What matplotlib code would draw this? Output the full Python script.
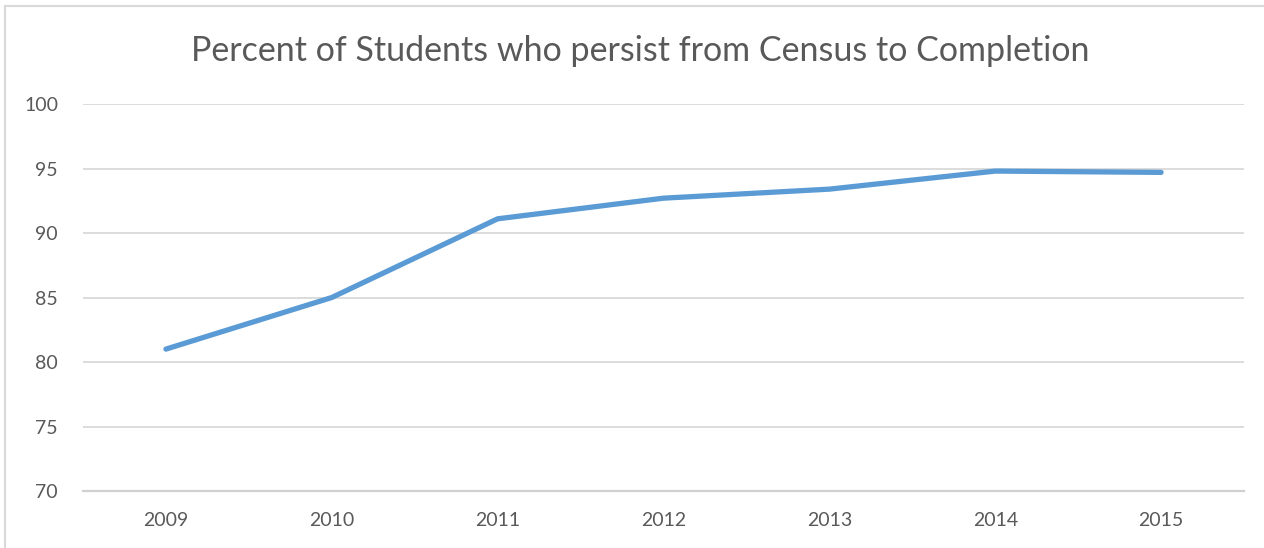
import numpy as np
import matplotlib
matplotlib.use("Agg")
from matplotlib import pyplot as plt
from matplotlib.patches import Rectangle

years = ["2009", "2010", "2011", "2012", "2013", "2014", "2015"]
persist = [81.0, 85.0, 91.1, 92.7, 93.4, 94.8, 94.7]
yticks = [70, 75, 80, 85, 90, 95, 100]

title = "Percent of Students who persist from Census to Completion"

plt.rcParams['font.family'] = ['Lato', 'DejaVu Sans']
textcol = "#595959"
gridcol = "#d9d9d9"

fig = plt.figure(figsize=(12.64, 5.48), dpi=100)
ax = fig.add_axes([83/1264, 1-491/548, (1244-83)/1264, (491-104)/548])

x = np.arange(len(years))
ax.plot(x, persist, color="#5b9bd5", lw=3.8, solid_capstyle="round", solid_joinstyle="round", zorder=3)

ax.set_xlim(-0.5, len(years)-0.5)
ax.set_ylim(70, 100)
ax.set_yticks(yticks)
ax.set_xticks(x)
ax.set_xticklabels(years)
ax.grid(axis="y", color=gridcol, lw=1.3)
ax.set_axisbelow(True)
for s in ax.spines.values():
    s.set_visible(False)
# category axis line a bit stronger than the gridlines
ax.spines["bottom"].set_visible(True)
ax.spines["bottom"].set_color("#d0d0d0")
ax.spines["bottom"].set_linewidth(1.6)
ax.tick_params(length=0, labelsize=14, colors=textcol)
ax.tick_params(axis="y", pad=18)
ax.tick_params(axis="x", pad=15)

fig.text(640/1264, 1-51/548, title, ha="center", va="center", fontsize=24.5, color=textcol)

# chart frame (cropped on the right and bottom)
fig.patches.append(Rectangle((5/1264, -0.1), 1.2, 1-6/548+0.1, transform=fig.transFigure,
                             fill=False, ec=gridcol, lw=1.5))

fig.savefig("out.png", dpi=100)
plt.close()
